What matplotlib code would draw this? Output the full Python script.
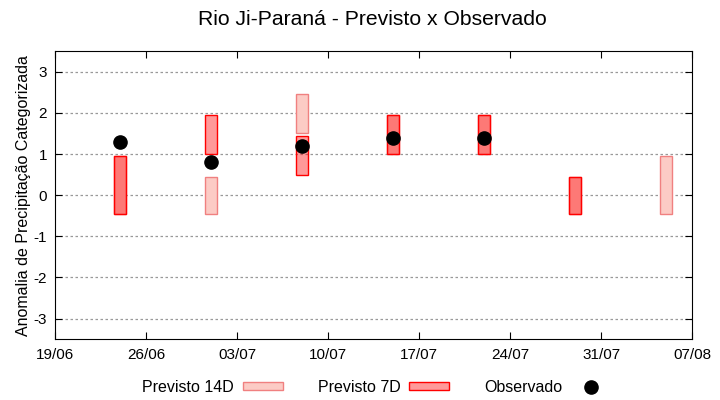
import pandas as pd
import matplotlib.pyplot as plt
import matplotlib.dates as mdates
from matplotlib.patches import Patch
from matplotlib.lines import Line2D

plt.rcParams['font.family'] = ['Liberation Sans', 'DejaVu Sans']
plt.rcParams['axes.unicode_minus'] = False

# dados
datas_14d = pd.to_datetime(["2024-06-24", "2024-07-01", "2024-07-08", "2024-07-15",
                            "2024-07-22", "2024-07-29", "2024-08-05"])
min_14d = [-0.45, -0.45, 1.5, 1.0, 1.0, -0.45, -0.45]
max_14d = [0.95, 0.45, 2.45, 1.95, 1.95, 0.45, 0.95]

datas_7d = pd.to_datetime(["2024-06-24", "2024-07-01", "2024-07-08", "2024-07-15",
                           "2024-07-22", "2024-07-29"])
min_7d = [-0.45, 1.0, 0.5, 1.0, 1.0, -0.45]
max_7d = [0.95, 1.95, 1.45, 1.95, 1.95, 0.45]

datas_obs = pd.to_datetime(["2024-06-24", "2024-07-01", "2024-07-08", "2024-07-15",
                            "2024-07-22"])
observado = [1.3, 0.8, 1.2, 1.4, 1.4]

xticks = pd.date_range("2024-06-19", "2024-08-07", freq="7D")

fig = plt.figure(figsize=(7.2, 4), dpi=100)
ax = fig.add_axes([0.0768, 0.152, 0.8847, 0.72])

alt_14d = [h - l for h, l in zip(max_14d, min_14d)]
alt_7d = [h - l for h, l in zip(max_7d, min_7d)]

ax.bar(datas_14d, alt_14d, bottom=min_14d, width=0.95, facecolor="#fccbc5",
       edgecolor="#f08080", linewidth=1, zorder=2)
ax.bar(datas_7d, alt_7d, bottom=min_7d, width=0.95, facecolor=(1, 0, 0, 0.4),
       edgecolor="#ff0000", linewidth=1, zorder=3)
ax.plot(datas_obs, observado, "o", color="black", markersize=9.5, zorder=4)

ax.set_xlim(xticks[0], xticks[-1])
ax.set_ylim(-3.5, 3.5)
ax.set_xticks(xticks)
ax.xaxis.set_major_formatter(mdates.DateFormatter("%d/%m"))
ax.set_yticks(range(-3, 4))
ax.tick_params(direction="in", top=True, right=True, labelsize=11, length=5, pad=6)
ax.yaxis.grid(True, linestyle=(0, (2, 2)), color="#999999", linewidth=0.9, zorder=1)
ax.set_axisbelow(True)

ax.set_ylabel("Anomalia de Precipitação Categorizada", fontsize=11.5, labelpad=2)
fig.suptitle("Rio Ji-Paraná - Previsto x Observado", fontsize=15.2, x=0.517, y=0.975)

handles = [
    Patch(facecolor="#fccbc5", edgecolor="#f08080", linewidth=1),
    Patch(facecolor=(1, 0, 0, 0.4), edgecolor="#ff0000", linewidth=1),
    Line2D([], [], marker="o", color="black", linestyle="none", markersize=9.5),
]
labels = ["Previsto 14D", "Previsto 7D", "Observado"]
fig.legend(handles, labels, loc="center", bbox_to_anchor=(0.523, 0.032), ncol=3,
           markerfirst=False, frameon=False, fontsize=11.5, handlelength=2.5,
           handleheight=0.35, handletextpad=0.55, columnspacing=2.2)

plt.savefig("out.png", dpi=100)
